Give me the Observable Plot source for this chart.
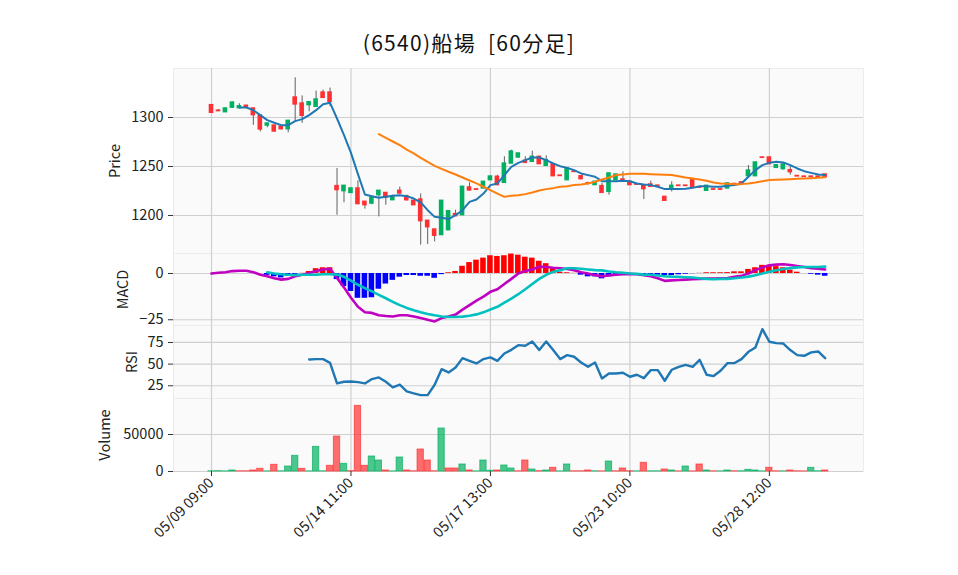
<!DOCTYPE html>
<html>
<head>
<meta charset="utf-8">
<script src="https://cdn.jsdelivr.net/npm/d3@7"></script>
<script src="https://cdn.jsdelivr.net/npm/@observablehq/plot@0.6"></script>
<style>
  html, body { margin: 0; padding: 0; background: #ffffff; }
  #wrap { position: relative; width: 958px; height: 575px; overflow: hidden; font-family: "Noto Sans CJK JP", "Noto Sans", sans-serif; }
  #title { position: absolute; left: 0; width: 938px; top: 27px; text-align: center; font-size: 21px; letter-spacing: 1.3px; color: #111; white-space: pre; }
  .panel { position: absolute; left: 0; }
  .panel svg { overflow: visible; }
</style>
</head>
<body>
<div id="wrap"><div id="title">(6540)船場  [60分足]</div></div>
<script>
// ---- data (60-minute bars, index 0 = 05/09 09:00) ----
const opens = [1312.6,1307,1305.4,1310,1309.5,1312,1309.2,1302,1291.8,1291.8,1290.8,1288,1320.4,1314.3,1312.6,1310.9,1325.5,1325.5,1230,1224.8,1223,1227.6,1214,1212.2,1220.7,1223,1215.6,1225.2,1219.7,1215,1216.3,1194.6,1185.7,1180,1185,1201.4,1200.3,1228.6,1226.7,1227.6,1236,1239.5,1233.3,1253,1259.2,1255.8,1254.8,1259.9,1250.7,1252.4,1240.7,1236,1244.8,1240.1,1232.9,1231,1230,1224.1,1236,1236.7,1234.4,1231.8,1230.3,1231.6,1230.5,1219,1226.9,1230.5,1230.5,1236.7,1228.8,1225.2,1226.7,1226.7,1227.6,1232.2,1233.8,1240.1,1240.1,1259.2,1259.2,1248.6,1247.3,1246.3,1240.3,1239.7,1239.7,1239.7,1241.8];
const highs = [1313,1308,1309.5,1315.5,1314,1312.5,1309.5,1302.5,1294,1292,1291,1297,1340.5,1322,1316,1327,1328,1330,1248,1230.5,1228,1235.4,1214.3,1218.5,1225.5,1223.3,1220.7,1229,1220.7,1215.3,1222,1195,1186,1215.3,1204.7,1205.4,1229.6,1233.3,1227,1234.7,1240.1,1241,1259.9,1266.6,1263.6,1260,1265.6,1260.2,1261,1252.7,1241,1248.3,1245.2,1240.4,1234,1234.7,1232.7,1243.2,1242.1,1244.6,1234.7,1232.2,1230.6,1235,1230.8,1219.3,1234.4,1230.8,1230.8,1237,1229,1230.6,1227,1227,1233,1232.5,1234.1,1251,1254.4,1259.5,1259.5,1251.7,1253,1249.7,1240.6,1240,1240,1240,1242.1];
const lows = [1304.5,1306,1305,1309.5,1309,1309.8,1292,1285.4,1289.5,1285.3,1287.5,1284.4,1295.6,1294,1305.8,1310.5,1319.5,1311,1200.3,1213,1222.5,1211,1206.5,1211,1198.6,1210.5,1215.3,1222,1214.6,1210.2,1169.7,1170.4,1173,1179.7,1184.7,1199,1200,1225.2,1226,1227.3,1235.7,1230.4,1233,1252.7,1258.2,1253.4,1254.5,1252,1250.4,1239.8,1240,1235.7,1244.1,1236.7,1231,1230.7,1222.8,1220.7,1235.7,1234.1,1230.7,1231.1,1216.3,1229,1229.8,1214.7,1224,1229.8,1229.8,1228.6,1228.1,1224.9,1226,1226,1227.3,1231.5,1233.1,1239.8,1239.8,1258.5,1252.1,1248.3,1246.3,1241.2,1239.6,1239,1238,1239,1238.8];
const closes = [1304.8,1306.5,1309.2,1315.3,1311.5,1310,1302.4,1287.8,1293.9,1285.7,1288,1296.6,1313.3,1301.7,1315.6,1318.4,1320,1316,1225.9,1230.3,1227.6,1211.6,1210.5,1218,1225.2,1218,1219.7,1222.4,1215.6,1210.5,1194.2,1188,1179.3,1215,1204.4,1199.3,1229.3,1225.5,1226.3,1234.4,1239.8,1231,1253,1265.3,1263.3,1253.7,1259.9,1252.4,1256.5,1240.1,1240.3,1248,1244.4,1237,1232.5,1234.4,1223.1,1242.9,1241.8,1234.4,1231,1231.4,1226.9,1229.3,1230.1,1215,1230.3,1230.1,1230.1,1228.9,1228.4,1230.3,1226.3,1226.3,1232.7,1231.8,1233.4,1245.9,1254.1,1258.8,1252.4,1251.4,1252,1244.2,1239.9,1239.3,1239.3,1239.3,1239.1];
const volumes = [300,500,200,1350,300,300,1350,3600,200,9000,300,6750,21150,3600,200,33300,300,7650,47250,10350,500,88650,7650,20250,14850,1350,200,18900,1350,300,29700,14850,300,58050,4050,4050,9450,1350,200,14850,1000,1350,8100,4050,300,14850,2700,500,1350,4950,200,9450,300,300,1350,300,200,13500,300,4050,400,200,11700,300,300,2700,1350,200,6750,200,9450,1350,300,200,1350,300,300,2250,1350,200,4950,300,200,1350,300,200,4950,300,1350];
const ma5 = [null,null,null,null,1310.2,1310.2,1307.5,1302.4,1297.3,1294.6,1292.2,1292.2,1296.3,1298.3,1302.4,1307.5,1313.6,1315.0,1299.0,1282.0,1263.9,1242.2,1221.4,1219.7,1218.0,1219.0,1220.1,1220.7,1219.7,1217.3,1213.3,1205.4,1198.6,1197.6,1196.3,1200.3,1205.4,1213.9,1216.3,1222.4,1231.0,1232.7,1241.2,1249.7,1253.7,1256.5,1259.2,1259.2,1256.5,1253.1,1250.3,1248.6,1246.3,1242.9,1241.2,1239.5,1235.0,1235.0,1235.0,1235.4,1235.0,1232.7,1231.6,1231.0,1229.3,1226.9,1226.9,1226.9,1227.2,1228.2,1229.9,1229.9,1229.3,1229.3,1230.3,1231.0,1232.7,1239.5,1246.3,1251.4,1253.7,1254.8,1254.1,1251.4,1248.0,1245.2,1243.5,1241.8,1241.2];
const ma25 = [null,null,null,null,null,null,null,null,null,null,null,null,null,null,null,null,null,null,null,null,null,null,null,null,1283.0,1279.3,1275.5,1271.8,1267.3,1263.3,1258.8,1254.8,1250.7,1247.6,1244.6,1241.8,1238.8,1235.7,1232.7,1229.3,1225.9,1222.4,1219.0,1220.1,1220.7,1221.8,1223.5,1225.5,1226.9,1227.9,1229.3,1229.9,1231.0,1231.6,1232.7,1234.4,1236.7,1238.8,1241.2,1241.8,1242.5,1242.5,1242.5,1242.2,1241.8,1241.5,1241.2,1240.1,1238.8,1237.8,1236.7,1235.4,1233.7,1232.7,1232.3,1232.0,1232.0,1232.7,1233.7,1235.0,1236.1,1236.4,1236.7,1237.1,1237.4,1237.8,1238.1,1238.4,1239.1];
const macd = [0,0.4,0.7,1.3,1.5,1.5,0.7,-0.7,-1.5,-2.6,-3.3,-2.9,-1.5,-0.7,0.2,1.3,2.2,2.6,-2.4,-7.5,-13.1,-18.0,-20.9,-21.3,-22.6,-23.0,-23.2,-22.6,-22.6,-23.2,-24.1,-25.0,-25.9,-24.1,-23.2,-22.2,-19.5,-17.1,-14.7,-12.5,-9.9,-8.5,-5.7,-2.9,0,1.3,2.2,3.7,3.5,3.1,2.8,2.4,1.7,0.7,0,-0.9,-1.5,-1.1,-0.7,-0.4,-0.2,-0.4,-0.9,-1.5,-2.6,-4.0,-3.7,-3.5,-3.3,-3.1,-2.9,-2.8,-2.8,-2.6,-2.4,-1.8,-1.3,0,1.8,3.3,4.4,4.8,5.0,4.6,4.0,3.5,2.9,2.6,2.2];
const signal = [null,null,null,null,null,null,null,null,0.7,0,-0.4,-0.7,-0.9,-0.7,-0.7,-0.7,-0.4,-0.4,-0.6,-1.8,-3.9,-6.1,-7.9,-9.7,-11.6,-13.4,-15.3,-17.1,-18.6,-19.9,-21.0,-21.9,-22.6,-23.2,-23.5,-23.5,-23.3,-22.8,-22.1,-21.0,-19.5,-18.0,-15.8,-13.6,-11.2,-8.5,-5.7,-2.9,-0.7,0.9,1.8,2.8,2.8,2.6,2.2,1.8,1.7,1.1,0.7,0.4,0,-0.2,-0.6,-0.7,-1.1,-1.5,-1.7,-1.8,-2.0,-2.2,-2.6,-2.9,-3.1,-2.9,-2.9,-2.6,-2.2,-1.7,-0.9,0,0.9,1.7,2.4,2.9,3.3,3.5,3.5,3.5,3.7];
const hist = [null,null,null,null,null,null,null,null,-1.0,-1.8,-2.4,-1.5,-0.5,0.1,1.1,2.6,3.1,3.1,-3.3,-7.0,-9.7,-13.4,-13.4,-13.1,-8.5,-5.7,-3.7,-2.0,-1.1,-1.1,-1.5,-1.5,-2.6,-0.6,0.4,1.1,3.9,5.9,7.2,8.3,9.6,9.2,9.6,10.5,9.9,8.8,8.3,6.6,5.3,2.6,0.7,0.4,0.1,-0.9,-1.8,-1.8,-2.9,-1.8,-0.5,-0.3,-0.3,-0.2,-0.7,-0.7,-0.9,-1.1,-1.1,-0.7,-0.4,-0.1,0.1,0.4,0.4,0.4,0.5,0.9,0.9,2.2,3.1,4.4,4.4,3.7,3.1,1.8,0.7,0,-0.4,-0.9,-1.5];
const rsi = [null,null,null,null,null,null,null,null,null,null,null,null,null,null,55.4,55.8,55.8,51.5,27.7,29.6,30.0,29.2,27.7,32.7,34.6,29.6,23.1,26.2,18.5,16.2,14.2,14.2,26.2,44.2,40.4,46.2,56.9,53.8,50.8,55.8,57.7,53.8,62.3,66.5,71.9,71.2,76.2,66.2,76.2,66.2,55.8,60.4,58.5,51.9,46.9,51.9,33.5,39.2,39.2,40.0,35.4,37.7,33.8,43.1,43.1,30.8,43.5,46.9,49.2,46.9,55.0,37.7,36.2,42.3,51.2,51.2,55.8,64.2,69.2,90.4,75.8,74.2,73.8,66.2,60.4,59.6,63.5,64.6,56.9];
const tickIdx = [0, 20, 40, 60, 80];
const tickLabels = ["05/09 09:00", "05/14 11:00", "05/17 13:00", "05/23 10:00", "05/28 12:00"];
const priceTicks = [1200, 1250, 1300];
const macdTicks = [-25, 0];
const rsiTicks = [25, 50, 75];
const volTicks = [0, 50000];

// ---- styling ----
const UP = "#00b060", DOWN = "#fe3032", WICK = "#606060";
const BG = "#fafafa", GRID = "#d0d0d0";
const FONT = "Noto Sans CJK JP, Noto Sans, sans-serif";
const W = 958, ML = 173, MR = 95;
const xDomain = [-5.45, 93.5];

const bars = opens.map((o, i) => ({
  i, o, h: highs[i], l: lows[i], c: closes[i], v: volumes[i],
  ma5: ma5[i], ma25: ma25[i], macd: macd[i], sig: signal[i], hist: hist[i], rsi: rsi[i],
  col: closes[i] >= o ? UP : DOWN,
  vcol: i === 0 || closes[i] >= closes[i - 1] ? UP : DOWN
}));

const wrap = document.getElementById("wrap");
function addPanel(top, opts, showX) {
  const svg = Plot.plot(Object.assign({
    width: W, marginLeft: ML, marginRight: MR, marginTop: 0, marginBottom: 0,
    x: showX ? {domain: xDomain} : {domain: xDomain, axis: null},
    style: {background: "transparent", fontFamily: FONT, fontSize: "14.5px", color: "#222", overflow: "visible"}
  }, opts));
  const d = document.createElement("div");
  d.className = "panel";
  d.style.top = top + "px";
  d.appendChild(svg);
  wrap.appendChild(d);
}
function yAxis(ticks, fmt) {
  return Plot.axisY(ticks, {tickSize: 5, tickPadding: 5, tickFormat: fmt, label: null, stroke: "#333"});
}
function yLabel(text, dx) {
  return Plot.text([text], {text: d => d, frameAnchor: "left", dx, rotate: -90, fontSize: 14.5, fill: "#222", textAnchor: "middle"});
}
const minus = d => d < 0 ? "\u2212" + Math.abs(d) : String(d);
const gx = Plot.gridX(tickIdx, {stroke: GRID, strokeOpacity: 1, strokeWidth: 1.2});

// Price panel
addPanel(68, {
  height: 185,
  y: {domain: [1161.2, 1350]},
  marks: [
    Plot.frame({fill: BG, stroke: "#ececec"}),
    gx,
    Plot.gridY(priceTicks, {stroke: GRID, strokeOpacity: 1, strokeWidth: 1.2}),
    Plot.ruleX(bars, {x: "i", y1: "l", y2: "h", stroke: WICK, strokeWidth: 1}),
    Plot.rect(bars, {x1: d => d.i - 0.33, x2: d => d.i + 0.33, y1: "o", y2: "c", fill: "col", insetTop: -0.7, insetBottom: -0.7}),
    Plot.line(bars, {x: "i", y: "ma5", stroke: "#1f77b4", strokeWidth: 2}),
    Plot.line(bars, {x: "i", y: "ma25", stroke: "#ff7f0e", strokeWidth: 2}),
    yAxis(priceTicks, d => String(d)),
    yLabel("Price", -58)
  ]
}, false);

// MACD panel
addPanel(253, {
  height: 72,
  y: {domain: [-28.1, 10.8]},
  marks: [
    Plot.frame({fill: BG, stroke: "#ececec"}),
    gx,
    Plot.gridY(macdTicks, {stroke: GRID, strokeOpacity: 1, strokeWidth: 1.2}),
    Plot.rect(bars.filter(d => d.hist != null), {x1: d => d.i - 0.4, x2: d => d.i + 0.4, y1: 0, y2: "hist", fill: d => d.hist >= 0 ? "#ff0000" : "#0000ff"}),
    Plot.line(bars, {x: "i", y: "macd", stroke: "#c000c0", strokeWidth: 2.6}),
    Plot.line(bars, {x: "i", y: "sig", stroke: "#00c0c0", strokeWidth: 2.6}),
    yAxis(macdTicks, minus),
    yLabel("MACD", -50)
  ]
}, false);

// RSI panel
addPanel(325, {
  height: 73,
  y: {domain: [10.3, 94.6]},
  marks: [
    Plot.frame({fill: BG, stroke: "#ececec"}),
    gx,
    Plot.gridY(rsiTicks, {stroke: GRID, strokeOpacity: 1, strokeWidth: 1.2}),
    Plot.line(bars, {x: "i", y: "rsi", stroke: "#1f77b4", strokeWidth: 2.4}),
    yAxis(rsiTicks, d => String(d)),
    yLabel("RSI", -41)
  ]
}, false);

// Volume panel with date axis
addPanel(398, {
  height: 73 + 104,
  marginBottom: 104,
  y: {domain: [0, 98650]},
  marks: [
    Plot.frame({fill: BG, stroke: "#ececec"}),
    gx,
    Plot.gridY(volTicks, {stroke: GRID, strokeOpacity: 1, strokeWidth: 1.2}),
    Plot.rect(bars, {x1: d => d.i - 0.45, x2: d => d.i + 0.45, y1: 0, y2: "v", fill: "vcol", fillOpacity: 0.7, stroke: "vcol", strokeOpacity: 0.7, strokeWidth: 1}),
    yAxis(volTicks, d => String(d)),
    Plot.axisX(tickIdx, {tickSize: 5, tickPadding: 4, tickRotate: -45, tickFormat: d => tickLabels[tickIdx.indexOf(d)], label: null, stroke: "#333"}),
    yLabel("Volume", -68)
  ]
}, true);
</script>
</body>
</html>
